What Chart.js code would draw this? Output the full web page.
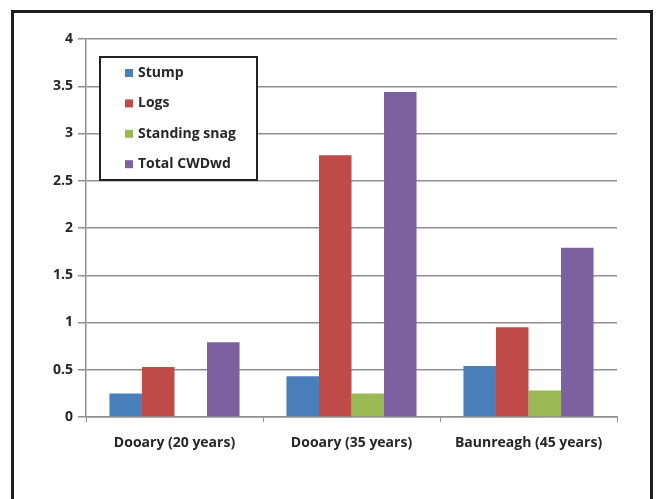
<!DOCTYPE html>
<html>
<head>
<meta charset="utf-8">
<script src="https://cdn.jsdelivr.net/npm/chart.js@4/dist/chart.umd.min.js"></script>
<style>
  html, body { margin: 0; padding: 0; background: #fff; }
  #wrap { position: relative; width: 656px; height: 499px; overflow: hidden; }
  #frame { position: absolute; left: 11px; top: 10px; width: 642px; height: 530px;
           box-sizing: border-box; border: 3px solid #1e1e1e; }
  #c { position: absolute; left: 0; top: 0; }
</style>
</head>
<body>
<div id="wrap">
  <div id="frame"></div>
  <canvas id="c" width="656" height="499"></canvas>
</div>
<script>
// Coarse woody debris by site and component
const categories = ['Dooary (20 years)', 'Dooary (35 years)', 'Baunreagh (45 years)'];
const stump        = [0.25, 0.43, 0.54];
const logs         = [0.53, 2.77, 0.95];
const standingSnag = [0.00, 0.25, 0.28];
const totalCWDwd   = [0.79, 3.44, 1.79];
const seriesNames  = ['Stump', 'Logs', 'Standing snag', 'Total CWDwd'];
const seriesColors = ['#4a7ebb', '#be4b48', '#98b954', '#7d60a0'];
const yTickValues  = [0, 0.5, 1, 1.5, 2, 2.5, 3, 3.5, 4];
const yTickLabels  = ['0', '0.5', '1', '1.5', '2', '2.5', '3', '3.5', '4'];

const FONT = '"Open Sans", "DejaVu Sans", sans-serif';
const TEXT = '#262626';
const GRID = '#8f8f8f';

// Legend drawn inside the plot, boxed like the original figure
const boxedLegend = {
  id: 'boxedLegend',
  afterDatasetsDraw(chart) {
    const ctx = chart.ctx;
    ctx.save();
    ctx.fillStyle = '#ffffff';
    ctx.fillRect(100, 57, 157, 123);
    ctx.lineWidth = 2;
    ctx.strokeStyle = '#222222';
    ctx.strokeRect(100, 57, 157, 123);
    ctx.font = 'bold 14px ' + FONT;
    ctx.textBaseline = 'middle';
    chart.data.datasets.forEach((ds, i) => {
      const cy = 73 + i * 30.4;
      ctx.fillStyle = ds.backgroundColor;
      ctx.fillRect(125, cy - 4, 8, 8);
      ctx.fillStyle = TEXT;
      ctx.fillText(ds.label, 138, cy);
    });
    ctx.restore();
  }
};

const seriesData = [stump, logs, standingSnag, totalCWDwd];

new Chart(document.getElementById('c'), {
  type: 'bar',
  data: {
    labels: categories,
    datasets: seriesNames.map((name, i) => ({
      label: name,
      data: seriesData[i],
      backgroundColor: seriesColors[i],
      borderWidth: 0,
      categoryPercentage: 0.735,
      barPercentage: 1.0
    }))
  },
  options: {
    responsive: false,
    devicePixelRatio: 1,
    animation: false,
    layout: { padding: { left: 0, right: 39, top: 39, bottom: 0 } },
    plugins: {
      legend: { display: false },
      tooltip: { enabled: false }
    },
    scales: {
      x: {
        afterFit(scale) { scale.height = 82; },
        grid: {
          display: true,
          drawOnChartArea: false,
          drawTicks: true,
          tickLength: 5,
          color: GRID,
          lineWidth: 1
        },
        border: { display: true, color: GRID, width: 1.5 },
        ticks: {
          color: TEXT,
          font: { family: FONT, size: 14, weight: 'bold' },
          padding: 13,
          maxRotation: 0
        }
      },
      y: {
        min: yTickValues[0],
        max: yTickValues[yTickValues.length - 1],
        afterFit(scale) { scale.width = 86; },
        afterBuildTicks(scale) {
          scale.ticks = yTickValues.map(v => ({ value: v }));
        },
        grid: {
          color: GRID,
          lineWidth: 1.5,
          drawTicks: true,
          tickLength: 8
        },
        border: { display: true, color: GRID, width: 1.5 },
        ticks: {
          color: TEXT,
          font: { family: FONT, size: 14, weight: 'bold' },
          padding: 5,
          callback(value) {
            const i = yTickValues.indexOf(value);
            return i >= 0 ? yTickLabels[i] : '';
          }
        }
      }
    }
  },
  plugins: [boxedLegend]
});
</script>
</body>
</html>
